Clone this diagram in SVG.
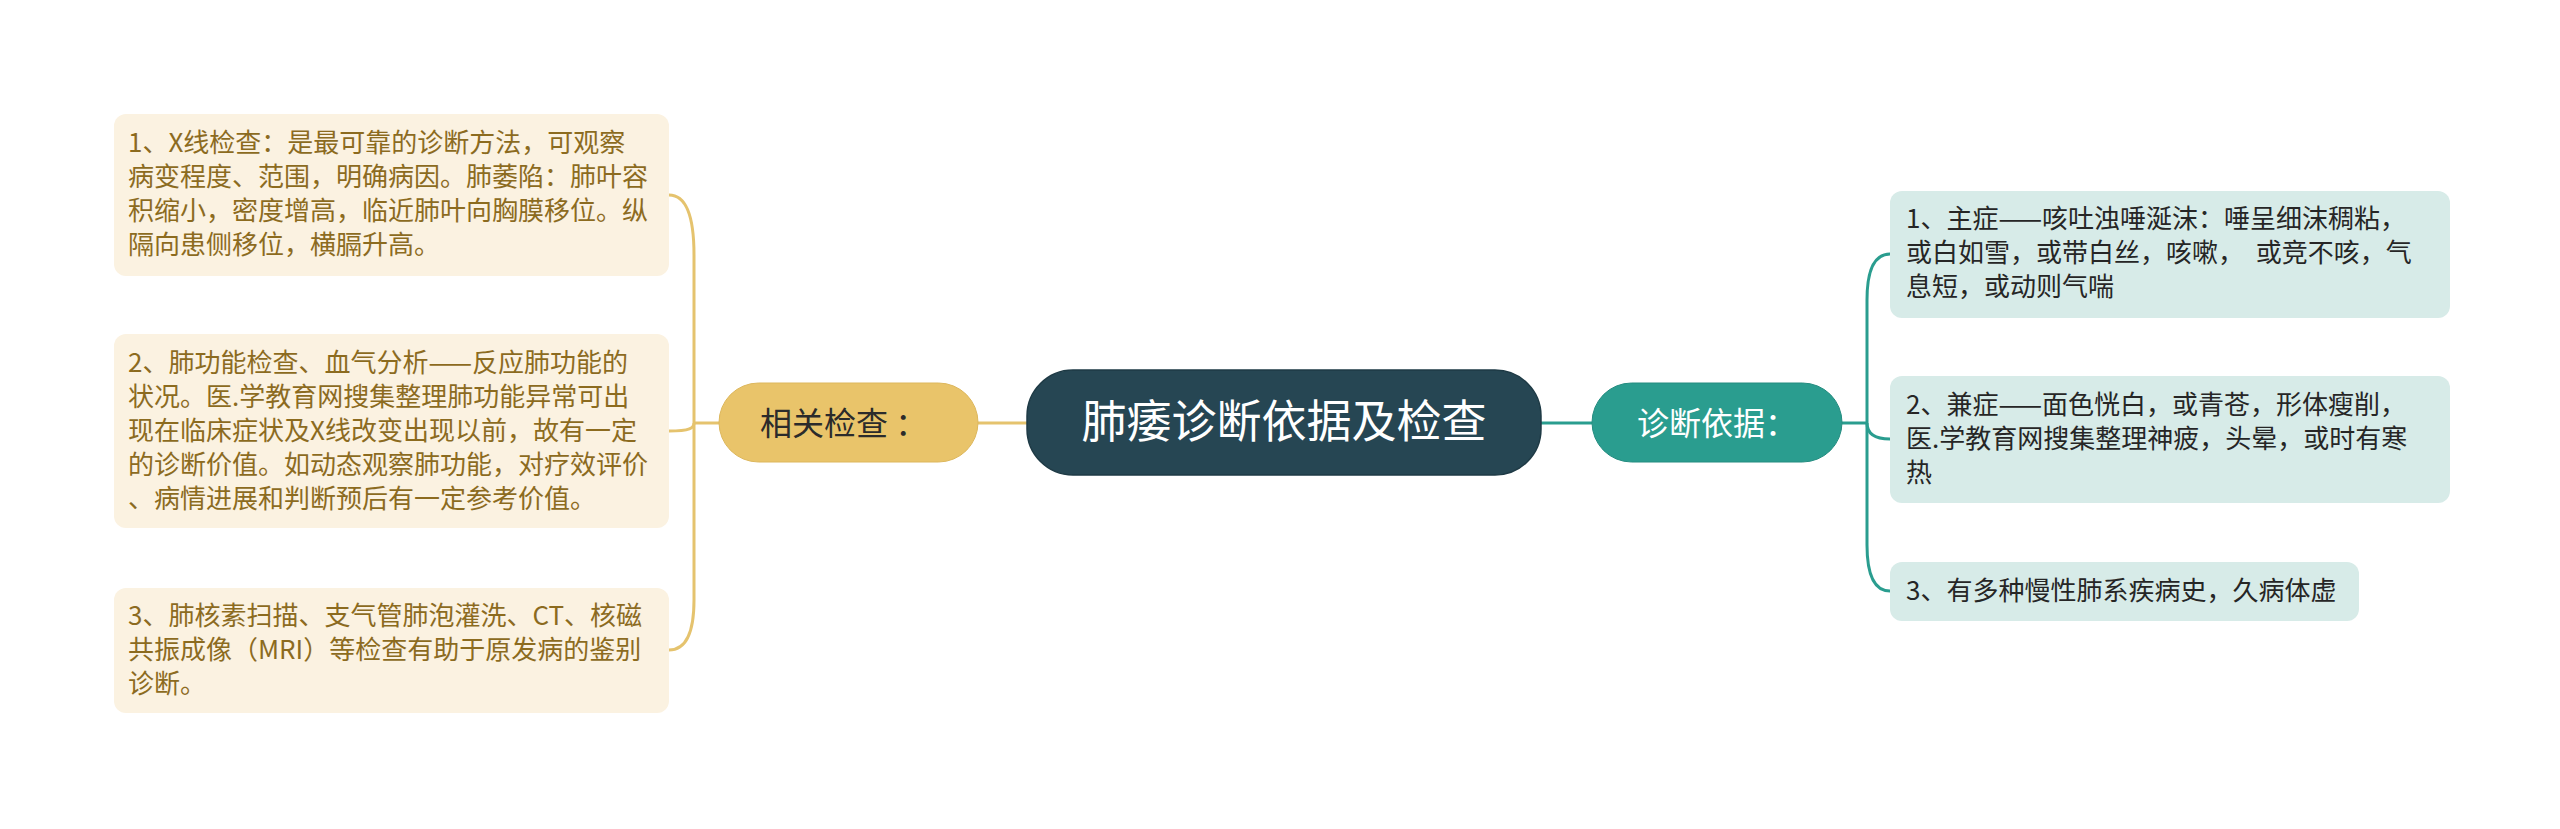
<svg xmlns="http://www.w3.org/2000/svg" width="2560" height="829" viewBox="0 0 2560 829">
<style>
text{font-family:"Noto Sans CJK SC","Noto Sans",sans-serif}
.lb{fill:#FBF2E1}
.lt{font-size:26px;fill:#8C6B1F}
.rb{fill:#D7EBE8}
.rt{font-size:26px;fill:#262626}
.gl{fill:none;stroke:#E5C36E;stroke-width:3}
.tl{fill:none;stroke:#2A9D8F;stroke-width:3}
</style>
<rect width="2560" height="829" fill="#FFFFFF"/>
<g id="connectors">
<path class="gl" d="M978 423H1028"/>
<path class="tl" d="M1541 423H1592"/>
<path class="gl" d="M719 423H694"/>
<path class="gl" d="M694 423V255Q694 195 669 195"/>
<path class="gl" d="M694 423C694 428 690 431 669 431"/>
<path class="gl" d="M694 423V600Q694 650 669 650"/>
<path class="tl" d="M1842 423H1867"/>
<path class="tl" d="M1867 423V300Q1867 254 1890 254"/>
<path class="tl" d="M1867 423C1867 432 1872 439 1890 439"/>
<path class="tl" d="M1867 423V545Q1867 591 1890 591"/>
</g>
<g id="root">
<rect x="1027" y="370" width="514" height="105" rx="46" fill="#264653" stroke="#1E3A45" stroke-width="1.5"/>
<text x="1284" y="438" font-size="45" fill="#FFFFFF" text-anchor="middle">肺痿诊断依据及检查</text>
</g>
<g id="n-exam">
<rect x="719" y="383" width="259" height="79" rx="39.5" fill="#E9C46A" stroke="#DDB75C" stroke-width="1"/>
<text x="760" y="435" font-size="32" fill="#2B2B2B" xml:space="preserve">相关检查 ：</text>
</g>
<g id="n-diag">
<rect x="1592" y="383" width="250" height="79" rx="39.5" fill="#2A9D8F" stroke="#248C80" stroke-width="1"/>
<text x="1717" y="435" font-size="32" fill="#FFFFFF" text-anchor="middle">诊断依据：</text>
</g>
<g id="exam-1">
<rect class="lb" x="114" y="114" width="555" height="162" rx="12"/>
<text class="lt" x="128"><tspan x="128" y="152">1、X线检查：是最可靠的诊断方法，可观察</tspan><tspan x="128" y="186">病变程度、范围，明确病因。肺萎陷：肺叶容</tspan><tspan x="128" y="220">积缩小，密度增高，临近肺叶向胸膜移位。纵</tspan><tspan x="128" y="254">隔向患侧移位，横膈升高。</tspan></text>
</g>
<g id="exam-2">
<rect class="lb" x="114" y="334" width="555" height="194" rx="12"/>
<text class="lt" x="128"><tspan x="128" y="372">2、肺功能检查、血气分析——反应肺功能的</tspan><tspan x="128" y="406">状况。医.学教育网搜集整理肺功能异常可出</tspan><tspan x="128" y="440">现在临床症状及X线改变出现以前，故有一定</tspan><tspan x="128" y="474">的诊断价值。如动态观察肺功能，对疗效评价</tspan><tspan x="128" y="508">、病情进展和判断预后有一定参考价值。</tspan></text>
</g>
<g id="exam-3">
<rect class="lb" x="114" y="588" width="555" height="125" rx="12"/>
<text class="lt" x="128"><tspan x="128" y="625">3、肺核素扫描、支气管肺泡灌洗、CT、核磁</tspan><tspan x="128" y="659">共振成像（MRI）等检查有助于原发病的鉴别</tspan><tspan x="128" y="693">诊断。</tspan></text>
</g>
<g id="diag-1">
<rect class="rb" x="1890" y="191" width="560" height="127" rx="12"/>
<text class="rt" x="1906" xml:space="preserve"><tspan x="1906" y="228">1、主症——咳吐浊唾涎沫：唾呈细沫稠粘，</tspan><tspan x="1906" y="262">或白如雪，或带白丝，咳嗽，  或竞不咳，气</tspan><tspan x="1906" y="296">息短，或动则气喘</tspan></text>
</g>
<g id="diag-2">
<rect class="rb" x="1890" y="376" width="560" height="127" rx="12"/>
<text class="rt" x="1906"><tspan x="1906" y="414">2、兼症——面色恍白，或青苍，形体瘦削，</tspan><tspan x="1906" y="448">医.学教育网搜集整理神疲，头晕，或时有寒</tspan><tspan x="1906" y="482">热</tspan></text>
</g>
<g id="diag-3">
<rect class="rb" x="1890" y="562" width="469" height="59" rx="12"/>
<text class="rt" x="1906" y="600">3、有多种慢性肺系疾病史，久病体虚</text>
</g>
</svg>
